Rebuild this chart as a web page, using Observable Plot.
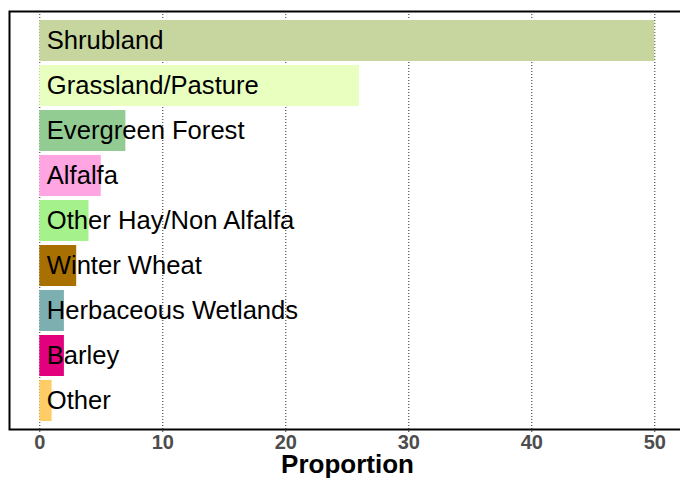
<!DOCTYPE html>
<html>
<head>
<meta charset="utf-8">
<script src="https://cdn.jsdelivr.net/npm/d3@7"></script>
<script src="https://cdn.jsdelivr.net/npm/@observablehq/plot@0.6"></script>
<style>
  html, body { margin: 0; padding: 0; background: #fff; }
  body { width: 680px; height: 478px; overflow: hidden; font-family: "Liberation Sans", Arial, sans-serif; }
</style>
</head>
<body>
<div id="chart"></div>
<script>
const categories = ["Shrubland", "Grassland/Pasture", "Evergreen Forest", "Alfalfa", "Other Hay/Non Alfalfa", "Winter Wheat", "Herbaceous Wetlands", "Barley", "Other"];
const proportions = [50, 26, 7, 5, 4, 3, 2, 2, 1];
const barColors = ["#C6D69E", "#E8FFBF", "#93CC93", "#FFA5E2", "#A5F28C", "#A87000", "#7CAFAF", "#E2007C", "#FFCC66"];
const xTicks = [0, 10, 20, 30, 40, 50];
const xTitle = "Proportion";

const data = categories.map((c, i) => ({ category: c, value: proportions[i], color: barColors[i] }));

const chart = Plot.plot({
  width: 680,
  height: 478,
  marginTop: 11,
  marginBottom: 49,
  marginLeft: 9,
  marginRight: 0,
  style: { fontFamily: "'Liberation Sans', Arial, sans-serif", background: "#fff", overflow: "visible" },
  x: { domain: [-2.463, 52.09], ticks: xTicks, label: null },
  y: { domain: categories, paddingInner: 0.1, paddingOuter: 0.15, axis: null },
  marks: [
    Plot.gridX(xTicks, { stroke: "#000", strokeOpacity: 0.85, strokeDasharray: "1,2", strokeWidth: 1 }),
    Plot.barX(data, { x1: 0, x2: "value", y: "category", fill: "color" }),
    Plot.text(data, { x: 0, y: "category", text: "category", textAnchor: "start", dx: 7, fontSize: 25.6, fill: "#000", dy: 0 }),
    Plot.frame({ stroke: "#000", strokeWidth: 2, insetRight: -4 }),
    Plot.axisX({ ticks: xTicks, tickSize: 3, tickPadding: 2, fontSize: 20, fontWeight: "bold", color: "#4d4d4d", stroke: "#333", label: null }),
    Plot.text([xTitle], { frameAnchor: "bottom", text: d => d, dy: 43, dx: 2.5, fontSize: 26, fontWeight: "bold", fill: "#000" })
  ]
});

document.getElementById("chart").appendChild(chart);
// tick label styling
chart.querySelectorAll("text").forEach(t => {
  if (/^\d+$/.test(t.textContent.trim())) {
    t.style.fontSize = "20px";
    t.style.fontWeight = "bold";
    t.style.fill = "#4d4d4d";
  }
});
</script>
</body>
</html>
